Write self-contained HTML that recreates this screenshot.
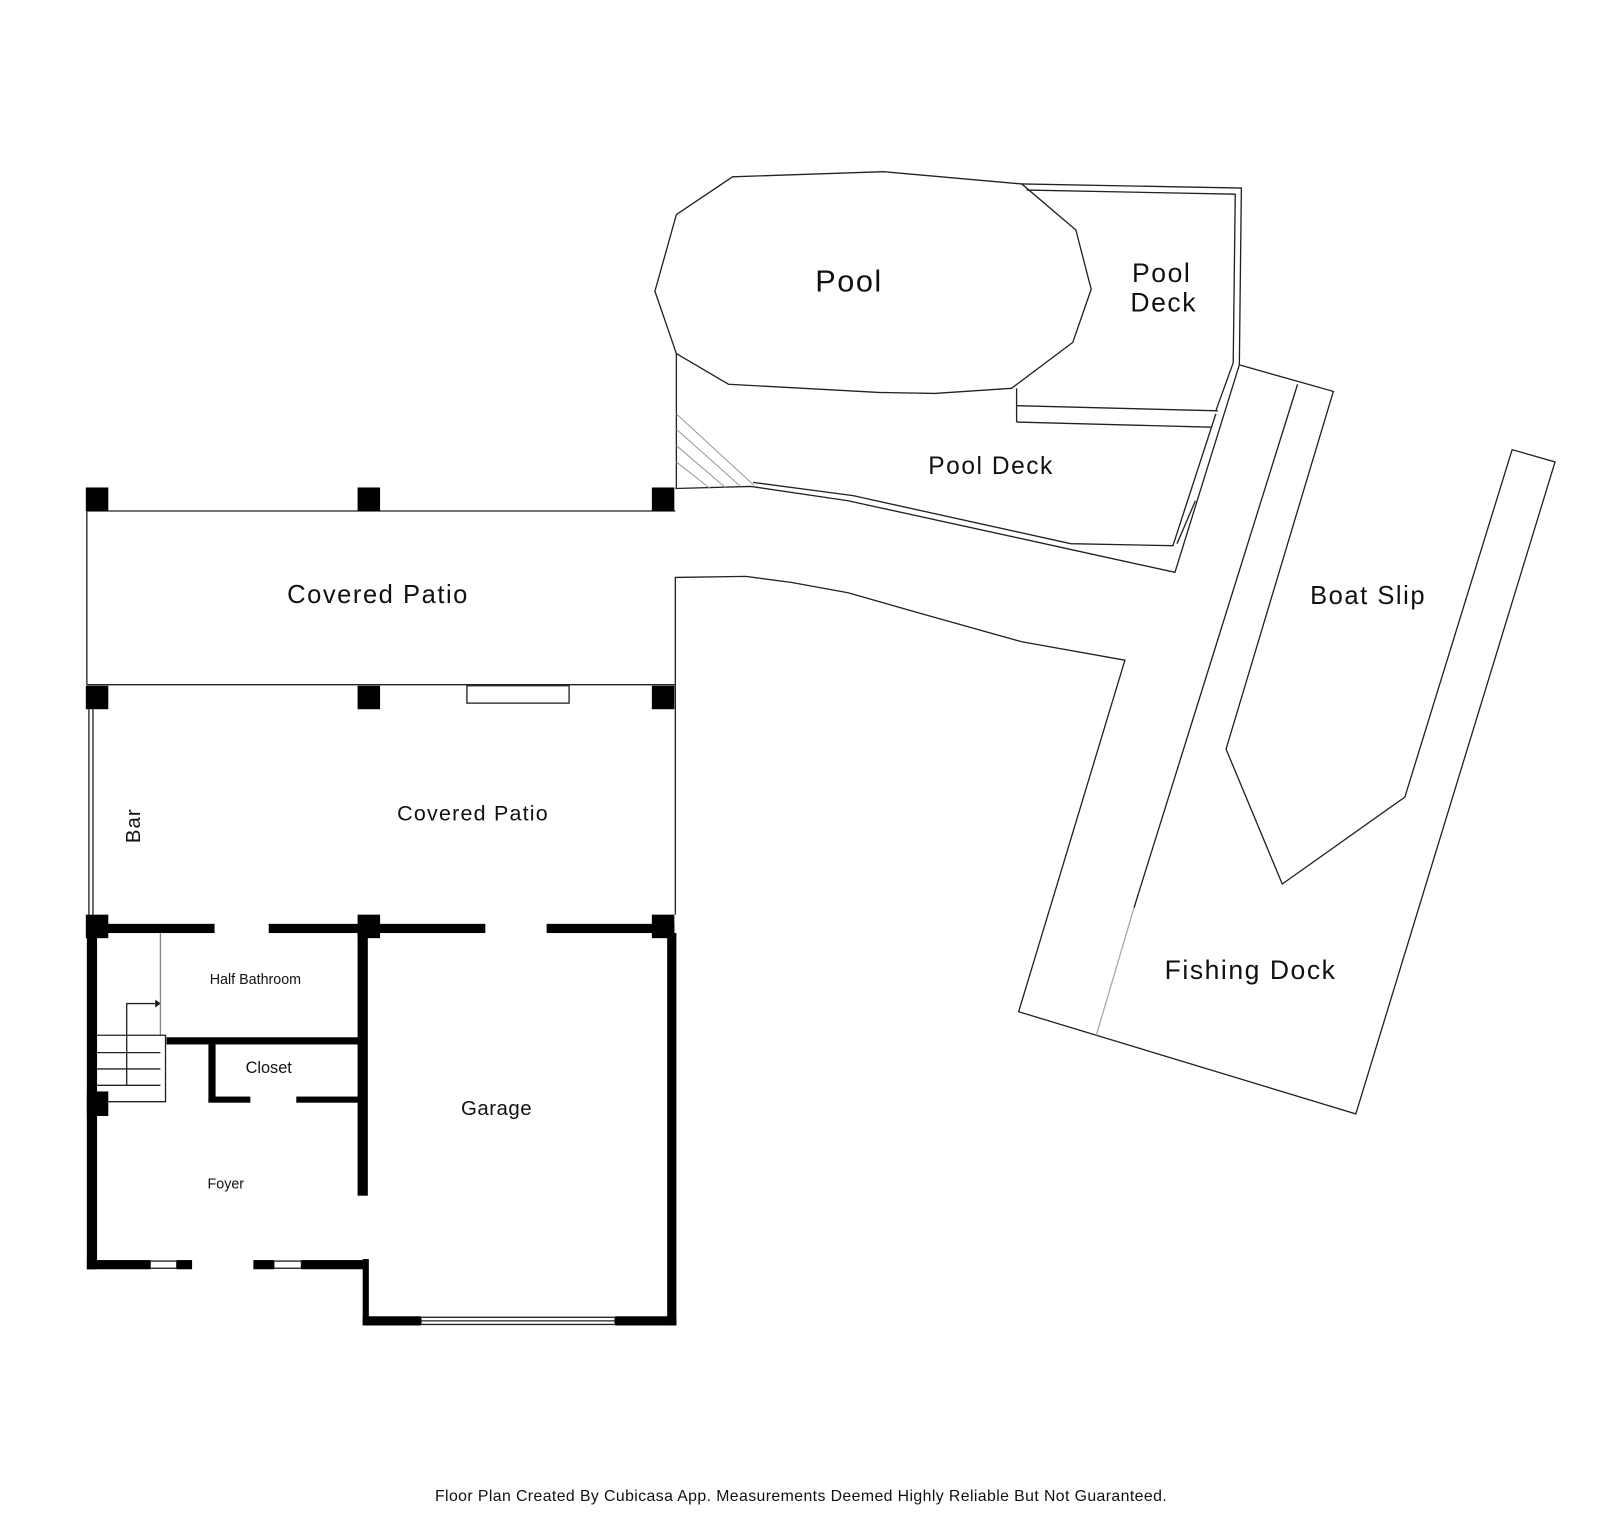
<!DOCTYPE html>
<html><head><meta charset="utf-8"><style>
html,body{margin:0;padding:0;background:#fff;}
svg{display:block;}
text{font-family:"Liberation Sans",sans-serif;fill:#111;text-anchor:middle;}
</style></head><body>
<svg width="1600" height="1536" viewBox="0 0 1566 1503" preserveAspectRatio="none" xmlns="http://www.w3.org/2000/svg">
<rect width="1566" height="1503" fill="#fff"/>
<g fill="none" stroke="#222" stroke-width="1.3">
<polygon points="662,210 717,173 865,168 1000,180 1053,225 1068,283 1050,335 990,380 915,385 860,384 713,376 662,346 641,285"/>
<polyline points="1000,180 1215,184 1213,357"/>
<polyline points="1005,186 1209,190 1207,355 1190,402"/>
<polyline points="995,380 995,413"/>
<line x1="995" y1="397" x2="1192" y2="402"/>
<line x1="995" y1="413" x2="1186" y2="418"/>
<line x1="662" y1="346" x2="662" y2="478"/>
<polyline points="661,478 735,476 830,490 1045,537 1150,560 1213,357"/>
<polyline points="737,472 835,485 1048,532 1148,534 1190,405"/>
<polyline points="1152,532 1170,490"/>
<g stroke="#999" stroke-width="1">
<line x1="662" y1="405" x2="738" y2="475"/>
<line x1="662" y1="420" x2="725" y2="476"/>
<line x1="662" y1="436" x2="710" y2="477"/>
<line x1="662" y1="452" x2="695" y2="478"/>
</g>
<line x1="85" y1="500" x2="661" y2="500"/>
<line x1="85" y1="670" x2="661" y2="670"/>
<line x1="85" y1="500" x2="85" y2="670"/>
<polyline points="661,895 661,565 730,564 775,570 830,580 900,600 1000,628 1101,646 997,990 1073,1013 1327,1090 1522,452 1480,440 1375,780 1255,865 1200,733 1305,383 1213,357"/>
<line x1="1270" y1="376" x2="1110" y2="888"/>
<line x1="1110" y1="888" x2="1073" y2="1013" stroke="#aaa"/>
<rect x="457" y="671" width="100" height="17"/>
<line x1="87" y1="694" x2="87" y2="895"/>
<line x1="91" y1="694" x2="91" y2="895"/>
<line x1="157" y1="913" x2="157" y2="1013" stroke="#888"/>
<polyline points="95,1013 162,1013 162,1078 106,1078"/>
<line x1="95" y1="1030" x2="157" y2="1030"/>
<line x1="95" y1="1046" x2="157" y2="1046"/>
<line x1="95" y1="1062" x2="157" y2="1062"/>
<polyline points="124,1062 124,982 152,982"/>
<rect x="147" y="1234" width="26" height="7"/>
<rect x="268" y="1234" width="27" height="7"/>
<rect x="412" y="1289" width="190" height="7"/>
<line x1="412" y1="1292.5" x2="602" y2="1292.5"/>
</g>
<polygon points="152,978 157,982 152,986" fill="#111"/>
<g fill="#000">
<rect x="84" y="477" width="22" height="23"/><rect x="350" y="477" width="22" height="23"/><rect x="638" y="477" width="22" height="23"/>
<rect x="84" y="671" width="22" height="23"/><rect x="350" y="671" width="22" height="23"/><rect x="638" y="671" width="22" height="23"/>
<rect x="84" y="895" width="22" height="23"/><rect x="350" y="895" width="22" height="23"/><rect x="638" y="895" width="22" height="23"/>
<rect x="85" y="1068" width="21" height="24"/>
<rect x="85" y="904" width="10" height="338"/>
<rect x="95" y="904" width="115" height="9"/>
<rect x="263" y="904" width="212" height="9"/>
<rect x="535" y="904" width="125" height="9"/>
<rect x="350" y="913" width="10" height="257"/>
<rect x="355" y="1232" width="6" height="65"/>
<rect x="653" y="913" width="9" height="384"/>
<rect x="355" y="1288" width="57" height="9"/>
<rect x="602" y="1288" width="60" height="9"/>
<rect x="85" y="1233" width="62" height="9"/>
<rect x="173" y="1233" width="15" height="9"/>
<rect x="248" y="1233" width="20" height="9"/>
<rect x="295" y="1233" width="65" height="9"/>
<rect x="163" y="1015" width="192" height="7"/>
<rect x="204" y="1022" width="7" height="56"/>
<rect x="204" y="1073" width="41" height="6"/>
<rect x="290" y="1073" width="65" height="6"/>
</g>
<g>
<text x="831" y="285" font-size="30" letter-spacing="1.5">Pool</text>
<text x="1137" y="276" font-size="26" letter-spacing="1.5">Pool</text>
<text x="1139" y="305" font-size="26" letter-spacing="1.5">Deck</text>
<text x="970" y="464" font-size="24" letter-spacing="1.5">Pool Deck</text>
<text x="370" y="590" font-size="25" letter-spacing="1.5">Covered Patio</text>
<text x="463" y="803" font-size="21" letter-spacing="1.2">Covered Patio</text>
<text x="0" y="0" font-size="20" letter-spacing="1" transform="translate(137,808) rotate(-90)">Bar</text>
<text x="250" y="963" font-size="14">Half Bathroom</text>
<text x="263" y="1050" font-size="16">Closet</text>
<text x="486" y="1091" font-size="20" letter-spacing="0.5">Garage</text>
<text x="221" y="1163" font-size="14">Foyer</text>
<text x="1339" y="591" font-size="25" letter-spacing="1.5">Boat Slip</text>
<text x="1224" y="958" font-size="26" letter-spacing="1.5">Fishing Dock</text>
<text x="784" y="1469" font-size="15.5" letter-spacing="0.4">Floor Plan Created By Cubicasa App. Measurements Deemed Highly Reliable But Not Guaranteed.</text>
</g>
</svg>
</body></html>
